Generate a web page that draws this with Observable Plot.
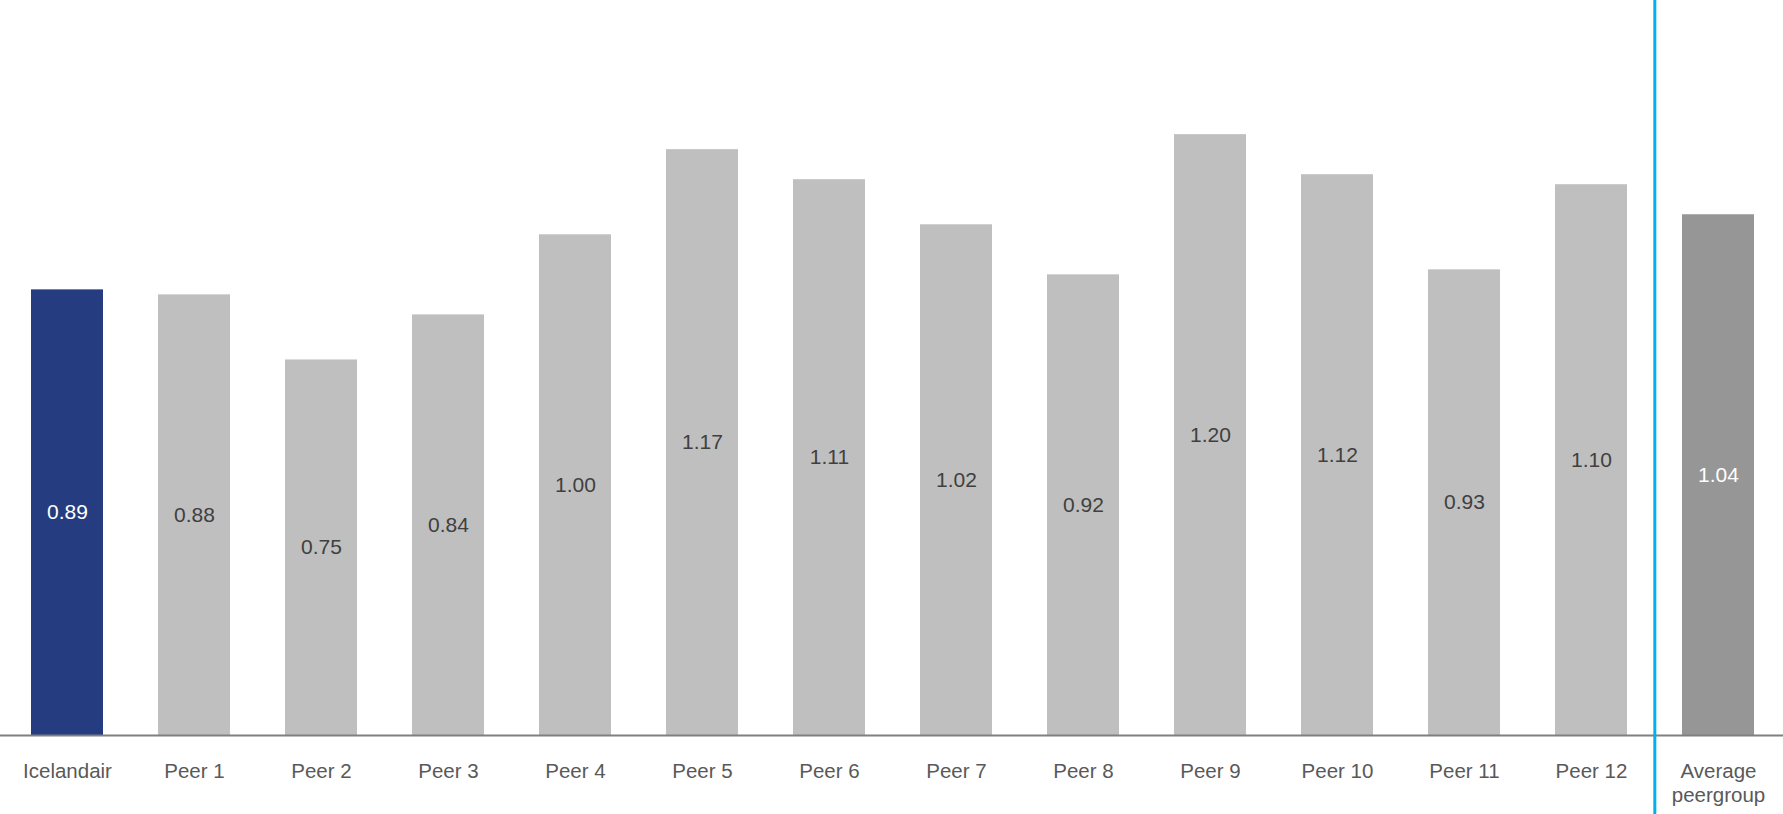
<!DOCTYPE html>
<html>
<head>
<meta charset="utf-8">
<script src="https://cdn.jsdelivr.net/npm/d3@7"></script>
<script src="https://cdn.jsdelivr.net/npm/@observablehq/plot@0.6"></script>
<style>
  html, body { margin: 0; padding: 0; background: #ffffff; }
  #chart svg { display: block; }
</style>
</head>
<body>
<div id="chart"></div>
<script>
// Unit cost index by airline
const categories = ["Icelandair", "Peer 1", "Peer 2", "Peer 3", "Peer 4", "Peer 5", "Peer 6",
  "Peer 7", "Peer 8", "Peer 9", "Peer 10", "Peer 11", "Peer 12", "Average peergroup"];
const values = [0.89, 0.88, 0.75, 0.84, 1.00, 1.17, 1.11, 1.02, 0.92, 1.20, 1.12, 0.93, 1.10, 1.04];
const tickLabels = ["Icelandair", "Peer 1", "Peer 2", "Peer 3", "Peer 4", "Peer 5", "Peer 6",
  "Peer 7", "Peer 8", "Peer 9", "Peer 10", "Peer 11", "Peer 12", "Average\npeergroup"];

const highlight = "Icelandair";
const average = "Average peergroup";

const data = categories.map((name, i) => ({name, value: values[i]}));

const barColor = d => d.name === highlight ? "#253d80" : d.name === average ? "#969696" : "#bfbfbf";
const labelColor = d => (d.name === highlight || d.name === average) ? "#ffffff" : "#404040";

const width = 1783, height = 814;
const marginLeft = 2, marginRight = 0, marginTop = 34, marginBottom = 79;
const paddingInner = 0.435, paddingOuter = 0.21;

// Band step, used to place the separator halfway between the last peer and the average
const step = (width - marginLeft - marginRight) / (categories.length - paddingInner + 2 * paddingOuter);

const chart = Plot.plot({
  width, height, marginLeft, marginRight, marginTop, marginBottom,
  style: {fontFamily: "'Liberation Sans', Arial, sans-serif", background: "#ffffff"},
  x: {domain: categories, paddingInner, paddingOuter, align: 0.5, axis: null},
  y: {domain: [0, 1.4], axis: null},
  marks: [
    Plot.barY(data, {x: "name", y: "value", fill: barColor}),
    Plot.text(data, {
      x: "name", y: d => d.value / 2, text: d => d.value.toFixed(2),
      fill: labelColor, fontSize: 21
    }),
    Plot.ruleY([0], {stroke: "#808080", strokeWidth: 2, insetLeft: -marginLeft}),
    Plot.ruleX([average], {
      x: d => d, stroke: "#00b0f0", strokeWidth: 3, dx: -step / 2,
      insetTop: -marginTop, insetBottom: -marginBottom
    }),
    // Category labels below the baseline
    Plot.text(categories, {
      x: d => d, frameAnchor: "bottom", lineAnchor: "top", dy: 25,
      text: d => tickLabels[categories.indexOf(d)],
      fontSize: 20.5, fill: "#595959", lineHeight: 1.17
    })
  ]
});

document.getElementById("chart").appendChild(chart);
</script>
</body>
</html>
